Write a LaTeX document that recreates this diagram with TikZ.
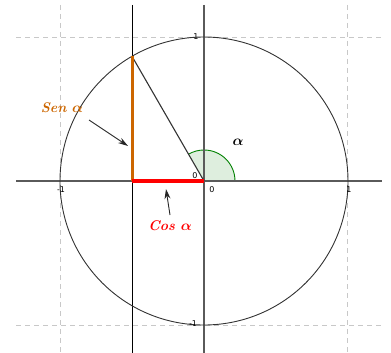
\documentclass[tikz,border=0pt]{standalone}
\usepackage{amsmath}
\usepackage{bm}
\usepackage{fontspec}
\setsansfont{DejaVu Sans}
\usetikzlibrary{arrows.meta}
\definecolor{senorange}{RGB}{204,102,0}
\definecolor{arcgreen}{RGB}{0,128,0}
\definecolor{arcfill}{RGB}{222,238,222}
\definecolor{axisgray}{RGB}{90,90,90}
\definecolor{gridgray}{RGB}{200,200,200}
\tikzset{
  gridline/.style={gridgray, line width=0.8pt, dash pattern=on 5pt off 4pt},
  axisline/.style={axisgray, line width=1.3pt},
  tick/.style={font=\sffamily\fontsize{8}{9}\selectfont, inner sep=0pt},
  lbl/.style={font=\bfseries\itshape\fontsize{14}{15}\selectfont, inner sep=0pt},
  pointer/.style={black!85, line width=0.9pt, -{Stealth[length=10pt,width=6pt]}},
}
\begin{document}
\begin{tikzpicture}[x=1pt,y=-1pt]
\useasboundingbox (0,0) rectangle (391,353);
% coordinates
\coordinate (O) at (204,181);
\coordinate (P) at (132,56.3);
\coordinate (Q) at (132,181);
% grid
\draw[gridline] (60,5) -- (60,353);
\draw[gridline] (347,5) -- (347,353);
\draw[gridline] (16,37) -- (382,37);
\draw[gridline] (16,325) -- (382,325);
% angle arc
\fill[arcfill] (O) -- ++(31,0) arc[start angle=0, end angle=-120, radius=31] -- cycle;
\draw[arcgreen, line width=0.9pt] (O) ++(31,0) arc[start angle=0, end angle=-120, radius=31];
% axes
\draw[axisline] (16,181) -- (382,181);
\draw[axisline] (204,5) -- (204,353);
% vertical through point
\draw[black, line width=0.9pt] (132,5) -- (132,353);
% circle
\draw[black!80, line width=0.9pt] (O) circle[radius=144];
% radius line
\draw[black!80, line width=1.1pt] (O) -- (P);
% sine and cosine
\draw[senorange, line width=3pt] (P) -- (Q);
\draw[red, line width=3.5pt] (Q) -- (O);
% tick labels
\node[tick] (z1) at (195,176) {0};
\node[tick] (z2) at (212,190) {0};
\node[tick] (r1) at (349,190) {1};
\node[tick] (l1) at (61,190) {-1};
\node[tick] (t1) at (196,37) {1};
\node[tick] (b1) at (193,324) {-1};
% labels
\node[lbl, text=senorange] (sen) at (62,108) {Sen $\bm{\alpha}$};
\node[lbl, text=red] (cos) at (170,226) {Cos $\bm{\alpha}$};
\node[lbl] (alpha) at (238,142) {$\bm{\alpha}$};
\coordinate (senA) at (89,120);
\coordinate (senB) at (128,146);
\coordinate (cosA) at (170,215);
\coordinate (cosB) at (166,189);
\draw[pointer] (senA) -- (senB);
\draw[pointer] (cosA) -- (cosB);
\end{tikzpicture}
\end{document}
